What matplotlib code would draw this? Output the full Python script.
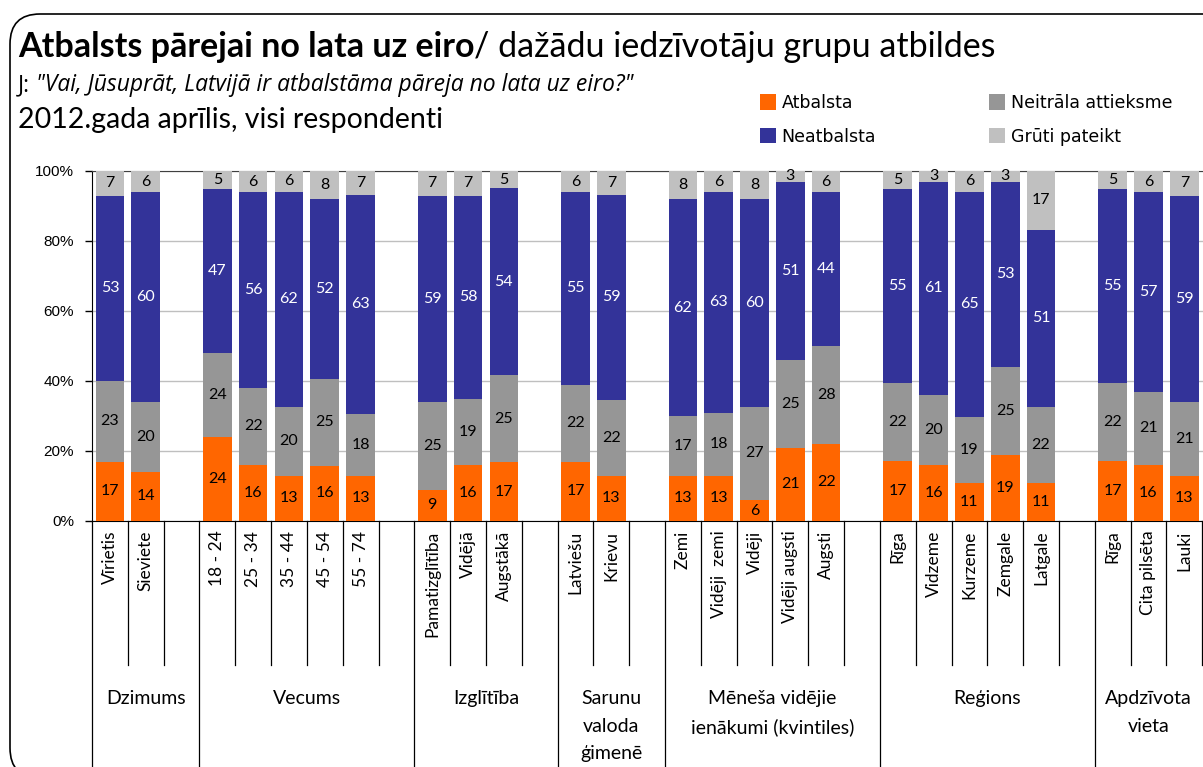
import matplotlib
matplotlib.use("Agg")
import matplotlib.pyplot as plt
import numpy as np
from matplotlib.patches import FancyBboxPatch
import matplotlib.transforms as mtransforms

# ---------------- data ----------------
groups = ["Dzimums", "Vecums", "Izglītība", "Sarunu\nvaloda\nģimenē",
          "Mēneša vidējie\nienākumi (kvintiles)", "Reģions", "Apdzīvota\nvieta"]
group_categories = [
    ["Vīrietis", "Sieviete"],
    ["18 - 24", "25 - 34", "35 - 44", "45 - 54", "55 - 74"],
    ["Pamatizglītība", "Vidējā", "Augstākā"],
    ["Latviešu", "Krievu"],
    ["Zemi", "Vidēji  zemi", "Vidēji", "Vidēji augsti", "Augsti"],
    ["Rīga", "Vidzeme", "Kurzeme", "Zemgale", "Latgale"],
    ["Rīga", "Cita pilsēta", "Lauki"],
]
series_names = ["Atbalsta", "Neitrāla attieksme", "Neatbalsta", "Grūti pateikt"]
atbalsta   = [17, 14, 24, 16, 13, 16, 13, 9, 16, 17, 17, 13, 13, 13, 6, 21, 22, 17, 16, 11, 19, 11, 17, 16, 13]
neitrala   = [23, 20, 24, 22, 20, 25, 18, 25, 19, 25, 22, 22, 17, 18, 27, 25, 28, 22, 20, 19, 25, 22, 22, 21, 21]
neatbalsta = [53, 60, 47, 56, 62, 52, 63, 59, 58, 54, 55, 59, 62, 63, 60, 51, 44, 55, 61, 65, 53, 51, 55, 57, 59]
gruti      = [7, 6, 5, 6, 6, 8, 7, 7, 7, 5, 6, 7, 8, 6, 8, 3, 6, 5, 3, 6, 3, 17, 5, 6, 7]
colors = ["#FF6600", "#969696", "#333399", "#C0C0C0"]
label_colors = ["black", "black", "white", "black"]
yticks = [0, 20, 40, 60, 80, 100]

# ---------------- layout ----------------
W, H = 1203, 767
fig = plt.figure(figsize=(W / 100, H / 100), dpi=100)

def fx(px):
    return px / W

def fy(py):
    return 1 - py / H

# rounded frame
frame = FancyBboxPatch((fx(10), fy(778)), fx(1300) - fx(10), fy(14) - fy(778),
                       boxstyle="round,pad=0,rounding_size=0.025",
                       transform=fig.transFigure, fill=False, edgecolor="black",
                       linewidth=1.2, mutation_aspect=W / H, clip_on=False)
fig.patches.append(frame)

ax_left, ax_right, ax_top, ax_bottom = 92, 1238, 171, 521
ax = fig.add_axes([fx(ax_left), fy(ax_bottom), fx(ax_right - ax_left), (ax_bottom - ax_top) / H])

# positions: each group followed by an empty slot
positions = []
labels = []
group_bounds = [-0.5]
group_positions = []
slot = 0
for cats in group_categories:
    gp = []
    for c in cats:
        positions.append(slot)
        gp.append(slot)
        labels.append(c)
        slot += 1
    group_positions.append(gp)
    slot += 1  # empty slot
    group_bounds.append(slot - 0.5)
n_slots = slot

data = np.array([atbalsta, neitrala, neatbalsta, gruti], dtype=float)
totals = data.sum(axis=0)
pct = data / totals * 100

bottom = np.zeros(len(positions))
handles = []
for i in range(4):
    b = ax.bar(positions, pct[i], bottom=bottom, width=0.8, color=colors[i],
               label=series_names[i], zorder=3)
    handles.append(b)
    for x, v, bt, raw in zip(positions, pct[i], bottom, data[i]):
        ax.text(x, bt + v / 2, f"{int(raw)}", ha="center", va="center",
                color=label_colors[i], fontsize=11.5, family="Lato", zorder=4)
    bottom += pct[i]

ax.set_xlim(-0.5, n_slots - 0.5)
ax.set_ylim(0, 100)
ax.set_yticks(yticks)
ax.set_yticklabels([f"{t}%" for t in yticks], family="Liberation Sans", fontsize=11)
ax.yaxis.grid(True, color="#BFBFBF", linewidth=1, zorder=0)
ax.set_axisbelow(True)
ax.tick_params(axis="y", direction="out", length=5, width=1, pad=8)
ax.set_xticks(positions)
ax.set_xticklabels(labels, rotation=90, family="Lato", fontsize=12.5, va="top", ha="center")
ax.tick_params(axis="x", length=0, pad=7)
ax.spines["right"].set_visible(False)
ax.spines["top"].set_color("#404040")
ax.spines["left"].set_color("black")
ax.spines["bottom"].set_color("black")

# separator lines below axis
trans = mtransforms.blended_transform_factory(ax.transData, ax.transAxes)
short_y = -(665 - ax_bottom) / (ax_bottom - ax_top)
long_y = -(790 - ax_bottom) / (ax_bottom - ax_top)
for k in range(n_slots + 1):
    xb = k - 0.5
    yb = long_y if xb in group_bounds else short_y
    ax.plot([xb, xb], [0, yb], color="black", lw=0.9, transform=trans, clip_on=False)

# group labels
label_top_y = -(690 - ax_bottom) / (ax_bottom - ax_top)
n_groups = len(groups)
for gi, g in enumerate(groups):
    a, b = group_bounds[gi], group_bounds[gi + 1]
    if gi == n_groups - 1:
        cx = float(np.mean(group_positions[gi]))  # visible part of the last group
    else:
        cx = (a + b) / 2
    ax.text(cx, label_top_y, g, ha="center", va="top", family="Lato",
            fontsize=14, linespacing=1.75, transform=trans)

# titles
r = fig.canvas.get_renderer()
t1 = fig.text(fx(18), fy(57), "Atbalsts pārejai no lata uz eiro", family="Lato",
              fontweight="bold", fontsize=24.5, va="baseline")
bb = t1.get_window_extent(renderer=r)
fig.text(bb.x1 / W, fy(57), "/ dažādu iedzīvotāju grupu atbildes", family="Lato",
         fontsize=24.5, va="baseline")
t3 = fig.text(fx(18), fy(91), "J: ", family="Open Sans", fontsize=16.5, va="baseline")
bb3 = t3.get_window_extent(renderer=r)
fig.text(bb3.x1 / W, fy(91), "\"Vai, Jūsuprāt, Latvijā ir atbalstāma pāreja no lata uz eiro?\"",
         family="Open Sans", style="italic", fontsize=16.5, va="baseline")
fig.text(fx(18), fy(128), "2012.gada aprīlis, visi respondenti", family="Lato",
         fontsize=20.5, va="baseline")

# legend
leg_handles = [handles[0], handles[2], handles[1], handles[3]]
leg_labels = [series_names[0], series_names[2], series_names[1], series_names[3]]
fig.legend(leg_handles, leg_labels, ncol=2, loc="upper left",
           bbox_to_anchor=(fx(760), fy(94)), frameon=False,
           prop={"family": "DejaVu Sans", "size": 12.5}, handlelength=0.9, handleheight=1.0,
           handletextpad=0.35, columnspacing=6.5, labelspacing=0.9, borderaxespad=0,
           borderpad=0)

fig.savefig("out.png", dpi=100)
